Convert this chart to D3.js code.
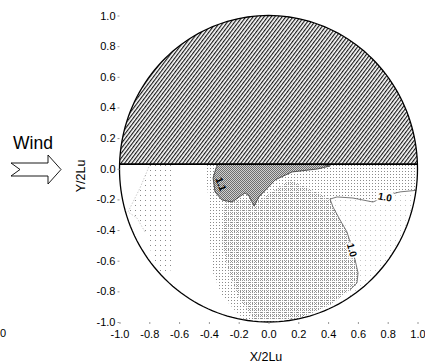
<!DOCTYPE html>
<html>
<head>
<meta charset="utf-8">
<script src="https://cdn.jsdelivr.net/npm/d3@7"></script>
<style>
  body { margin: 0; background: #fff; }
  text { font-family: "Liberation Sans", Arial, sans-serif; fill: #000; }
</style>
</head>
<body>
<svg id="chart" width="425" height="363"></svg>
<script>
// Axis ticks (normalised by 2Lu)
const xTicks = [-1.0, -0.8, -0.6, -0.4, -0.2, 0.0, 0.2, 0.4, 0.6, 0.8, 1.0];
const yTicks = [-1.0, -0.8, -0.6, -0.4, -0.2, 0.0, 0.2, 0.4, 0.6, 0.8, 1.0];

// Upper boundary of the measured half (blocked half above it)
const wallLevel = 0.03;

// Ratio > 1.1 zone
const zone11 = [
  [-0.339, 0.03], [0.346, 0.03], [0.413, 0.018], [0.332, -0.001], [0.158, -0.021],
  [0.044, -0.073], [-0.064, -0.184], [-0.097, -0.243], [-0.131, -0.177], [-0.158, -0.158],
  [-0.245, -0.217], [-0.312, -0.204], [-0.359, -0.151], [-0.372, -0.060], [-0.352, 0.005]
];

// Ratio = 1.0 isoline
const contour10 = [
  [1.0, -0.14], [0.883, -0.151], [0.829, -0.164], [0.701, -0.217], [0.567, -0.191],
  [0.460, -0.184], [0.413, -0.198], [0.433, -0.250], [0.480, -0.334], [0.527, -0.413],
  [0.560, -0.517], [0.581, -0.595], [0.601, -0.680], [0.594, -0.745], [0.547, -0.790]
];

// Stippled zones
const zoneMid = [
  [-0.426, 0.03], [1.0, 0.03], ...contour10,
  [0.413, -0.889], [0.211, -0.974], [0.144, -1.02], [-0.124, -1.02], [-0.225, -0.925],
  [-0.312, -0.827], [-0.379, -0.664], [-0.399, -0.400], [-0.406, -0.171]
];
const zoneDense = [
  [-0.292, -0.204], [-0.057, -0.204], [0.144, -0.073],
  ...contour10.slice(6),
  [0.413, -0.889], [0.211, -0.974], [-0.091, -0.987], [-0.191, -0.857],
  [-0.272, -0.662], [-0.312, -0.465]
];
const zoneRight = [
  ...contour10.slice().reverse(),
  [0.950, -0.399], [0.849, -0.660], [0.681, -0.856], [0.547, -0.934]
];
const zoneLeft = [
  [-0.795, 0.03], [-0.648, 0.03], [-0.648, -0.660], [-0.728, -0.680], [-0.782, -0.562],
  [-0.829, -0.412], [-0.883, -0.321], [-0.943, -0.282], [-0.862, -0.125]
];

// Contour labels
const contourLabels = [
  { text: "1.1", pos: [-0.319, -0.100], angle: 70 },
  { text: "1.0", pos: [0.782, -0.185], angle: 10 },
  { text: "1.0", pos: [0.560, -0.531], angle: 75 }
];

const svg = d3.select("#chart");
const x = d3.scaleLinear().domain([-1, 1]).range([119.5, 417.5]);
const y = d3.scaleLinear().domain([-1, 1]).range([322, 15.5]);
const line = d3.line().x(d => x(d[0])).y(d => y(d[1]));
const closed = d3.line().x(d => x(d[0])).y(d => y(d[1])).curve(d3.curveLinearClosed);

// Unit circle outline
const circlePts = d3.range(0, 361, 2).map(a => [Math.cos(a * Math.PI / 180), Math.sin(a * Math.PI / 180)]);

const defs = svg.append("defs");
defs.append("clipPath").attr("id", "disk").append("path").attr("d", closed(circlePts));

// Diagonal hatching
const hatch = defs.append("pattern").attr("id", "hatch").attr("patternUnits", "userSpaceOnUse")
  .attr("width", 2.9).attr("height", 10).attr("patternTransform", "rotate(37)");
hatch.append("line").attr("x1", 0.6).attr("x2", 0.6).attr("y1", -1).attr("y2", 11)
  .attr("stroke", "#111").attr("stroke-width", 1.15);

// Stipple textures: regular dot screens
function stipple(id, w, h, pts, col) {
  const p = defs.append("pattern").attr("id", id).attr("patternUnits", "userSpaceOnUse")
    .attr("width", w).attr("height", h);
  pts.forEach(q => p.append("rect").attr("x", q[0]).attr("y", q[1]).attr("width", 1).attr("height", 1).attr("fill", col));
}
stipple("dotsSparse", 5, 5, [[0, 0]], "#8a8a8a");
stipple("dotsMid", 3, 3, [[0, 0]], "#8a8a8a");
stipple("dotsDense", 2, 2, [[0, 0]], "#9a9a9a");
stipple("dotsDark", 2, 2, [[0, 0], [1, 1]], "#6e6e6e");

const plot = svg.append("g").attr("clip-path", "url(#disk)");

plot.append("path").attr("d", closed(zoneLeft)).attr("fill", "url(#dotsSparse)");
plot.append("path").attr("d", closed(zoneRight)).attr("fill", "url(#dotsSparse)").attr("opacity", 0.5);
plot.append("path").attr("d", closed(zoneMid)).attr("fill", "url(#dotsMid)");
plot.append("path").attr("d", closed(zoneDense)).attr("fill", "url(#dotsDense)");
plot.append("path").attr("d", closed(zone11)).attr("fill", "#d0d0d0");
plot.append("path").attr("d", closed(zone11)).attr("fill", "url(#dotsDark)")
  .attr("stroke", "#333").attr("stroke-width", 0.8);

// Faint edge of the left zone
plot.append("path").attr("d", line(zoneLeft.slice(5).concat([zoneLeft[0]])))
  .attr("fill", "none").attr("stroke", "#aaa").attr("stroke-width", 0.6).attr("stroke-dasharray", "1.5,1.5");

// Isoline 1.0
plot.append("path").attr("d", line(contour10)).attr("fill", "none")
  .attr("stroke", "#555").attr("stroke-width", 0.8);

// Blocked half
const a0 = Math.asin(wallLevel);
const halfPts = d3.range(a0, Math.PI - a0 + 1e-9, (Math.PI - 2 * a0) / 120).map(a => [Math.cos(a), Math.sin(a)]);
plot.append("path").attr("d", closed(halfPts)).attr("fill", "url(#hatch)");
svg.append("line")
  .attr("x1", x(-Math.cos(a0))).attr("x2", x(Math.cos(a0)))
  .attr("y1", y(wallLevel)).attr("y2", y(wallLevel))
  .attr("stroke", "#000").attr("stroke-width", 1.6);

// Contour labels
contourLabels.forEach(l => {
  const g = svg.append("g").attr("transform", `translate(${x(l.pos[0])},${y(l.pos[1])}) rotate(${l.angle})`);
  g.append("rect").attr("x", -8).attr("y", -6).attr("width", 16).attr("height", 11).attr("fill", "#fff").attr("opacity", l.text === "1.1" ? 0 : 0.9);
  g.append("text").attr("text-anchor", "middle").attr("dy", "0.35em")
    .style("font-size", "10px").style("font-weight", "bold").text(l.text);
});

// Circle outline
svg.append("path").attr("d", closed(circlePts)).attr("fill", "none")
  .attr("stroke", "#000").attr("stroke-width", 1.3);

// Axes (plain hyphen for negatives)
const fmt = d => d3.format(".1f")(d).replace("\u2212", "-");
const xAxis = svg.append("g").attr("transform", `translate(0,${y(-1)})`)
  .call(d3.axisBottom(x).tickValues(xTicks).tickFormat(fmt).tickSize(2).tickPadding(6));
const yAxis = svg.append("g").attr("transform", `translate(${x(-1)},0)`)
  .call(d3.axisLeft(y).tickValues(yTicks).tickFormat(fmt).tickSize(2).tickPadding(2));
[xAxis, yAxis].forEach(a => {
  a.select(".domain").remove();
  a.selectAll(".tick line").attr("stroke", "#999");
  a.selectAll("text").style("font-size", "11px").attr("fill", "#000");
});

// Axis titles
svg.append("text").attr("x", 266).attr("y", 361).attr("text-anchor", "middle")
  .style("font-size", "12.5px").text("X/2Lu");
svg.append("text").attr("transform", "translate(85,176) rotate(-90)").attr("text-anchor", "middle")
  .style("font-size", "12.5px").text("Y/2Lu");

// Wind indicator
svg.append("text").attr("x", 13).attr("y", 149).style("font-size", "17.5px").text("Wind");
const arrow = [[11, 163], [48, 163], [48, 155], [61, 169.5], [48, 184], [48, 176], [11, 176], [20, 169.5]];
svg.append("path").attr("d", d3.line()(arrow) + "Z").attr("fill", "#fff")
  .attr("stroke", "#000").attr("stroke-width", 0.9);

// Trailing digit of the neighbouring panel's axis label
svg.append("text").attr("x", 0).attr("y", 337)
  .style("font-size", "11px").text("0");
</script>
</body>
</html>
